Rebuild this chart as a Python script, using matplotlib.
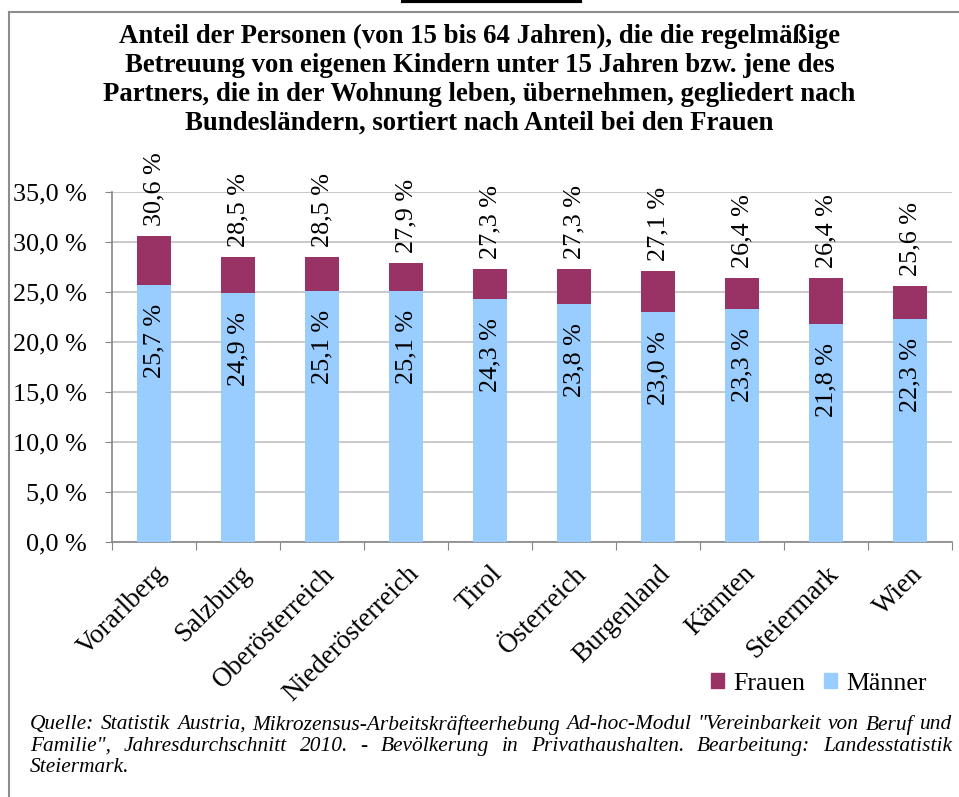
import matplotlib
matplotlib.use("Agg")
from matplotlib import pyplot as plt
from matplotlib.patches import Patch

laender = ["Vorarlberg", "Salzburg", "Oberösterreich", "Niederösterreich", "Tirol",
           "Österreich", "Burgenland", "Kärnten", "Steiermark", "Wien"]
frauen = [30.6, 28.5, 28.5, 27.9, 27.3, 27.3, 27.1, 26.4, 26.4, 25.6]
maenner = [25.7, 24.9, 25.1, 25.1, 24.3, 23.8, 23.0, 23.3, 21.8, 22.3]
y_ticks = [0, 5, 10, 15, 20, 25, 30, 35]

title = ("Anteil der Personen (von 15 bis 64 Jahren), die die regelmäßige\n"
         "Betreuung von eigenen Kindern unter 15 Jahren bzw. jene des\n"
         "Partners, die in der Wohnung leben, übernehmen, gegliedert nach\n"
         "Bundesländern, sortiert nach Anteil bei den Frauen")
quelle = ['Quelle: Statistik Austria, Mikrozensus-Arbeitskräfteerhebung Ad-hoc-Modul "Vereinbarkeit von Beruf und',
          'Familie", Jahresdurchschnitt 2010. - Bevölkerung in Privathaushalten. Bearbeitung: Landesstatistik',
          'Steiermark.']

col_frauen = "#993366"
col_maenner = "#99ccff"

plt.rcParams["font.family"] = ["Liberation Serif", "DejaVu Serif"]

W, H = 959, 797
fig = plt.figure(figsize=(W / 100, H / 100), dpi=100)

# frame of the chart box and the cut off heading above it
fig.add_artist(plt.Line2D([9 / W, 9 / W], [0, 1 - 12 / H], color="#8c8c8c", lw=1.5))
fig.add_artist(plt.Line2D([9 / W, 958 / W], [1 - 12 / H, 1 - 12 / H], color="#8c8c8c", lw=1.5))
fig.add_artist(plt.Line2D([403 / W, 580 / W], [1 - 1 / H, 1 - 1 / H], color="black", lw=3))

fig.text(0.5, 1 - 24 / H, title, ha="center", va="top", fontsize=19.3,
         fontweight="bold", linespacing=1.21)

ax = fig.add_axes([112 / W, 1 - 542 / H, 840 / W, 350 / H])
x = range(len(laender))
ax.bar(x, frauen, width=0.4, color=col_frauen, zorder=2)
ax.bar(x, maenner, width=0.4, color=col_maenner, zorder=3)

for i in x:
    ax.text(i, frauen[i] + 1.0, f"{frauen[i]:.1f} %".replace(".", ","), rotation=90,
            ha="center", va="bottom", fontsize=18.8)
    ax.text(i, maenner[i] - 1.9, f"{maenner[i]:.1f} %".replace(".", ","), rotation=90,
            ha="center", va="top", fontsize=18.8, zorder=4)

ax.set_xlim(-0.5, len(laender) - 0.5)
ax.set_ylim(0, 35)
ax.set_yticks(y_ticks)
ax.set_yticklabels([f"{v:.1f} %".replace(".", ",") for v in y_ticks], fontsize=18.8)
ax.set_xticks([i - 0.5 for i in range(len(laender) + 1)], minor=False)
ax.set_xticklabels([])
ax.set_xticks(list(x), minor=True)
ax.set_xticklabels(laender, minor=True, rotation=45, ha="right", rotation_mode="anchor",
                   fontsize=19.5)
ax.tick_params(axis="x", which="minor", length=0, pad=14)
ax.tick_params(axis="x", which="major", length=6, color="#868686", direction="out")
ax.tick_params(axis="y", length=5, color="#868686", pad=13)
ax.yaxis.grid(True, color="#c0c0c0", lw=1.2, zorder=0)
ax.set_axisbelow(True)
for side in ["top", "right"]:
    ax.spines[side].set_visible(False)
for side in ["left", "bottom"]:
    ax.spines[side].set_color("#868686")
    ax.spines[side].set_linewidth(1.2)

handles = [Patch(color=col_frauen), Patch(color=col_maenner)]
fig.legend(handles, ["Frauen", "Männer"], loc="center right",
           bbox_to_anchor=(945 / W, 1 - 684 / H), ncol=2, frameon=False, fontsize=18.6,
           handlelength=0.5, handleheight=0.5, handletextpad=0.35, columnspacing=0.75,
           borderpad=0.2)

# source note, justified between x=30 and x=952 like in the original
renderer = fig.canvas.get_renderer()
left, right = 30, 952
line_y = [715, 737, 758]
for n, line in enumerate(quelle):
    words = line.split(" ")
    texts = [fig.text(0, 1 - line_y[n] / H, w, ha="left", va="top", fontsize=15.4,
                      style="italic") for w in words]
    widths = [t.get_window_extent(renderer).width for t in texts]
    if n < len(quelle) - 1:
        gap = (right - left - sum(widths)) / (len(words) - 1)
    else:
        gap = 4
    pos = left
    for t, w in zip(texts, widths):
        t.set_x(pos / W)
        pos += w + gap

plt.savefig("out.png", dpi=100)
